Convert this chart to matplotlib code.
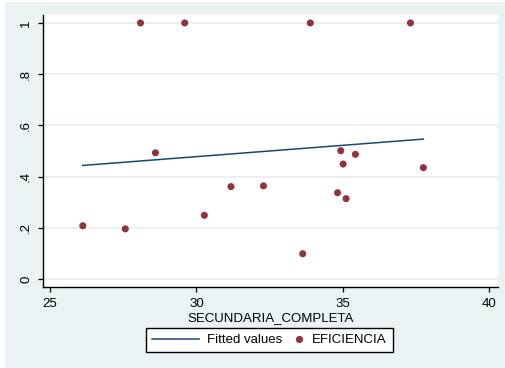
import numpy as np
import matplotlib
matplotlib.use("Agg")
import matplotlib.pyplot as plt
from matplotlib.lines import Line2D
from matplotlib.legend_handler import HandlerLine2D
from matplotlib.patches import Rectangle

plt.rcParams['font.family'] = ['Liberation Sans', 'DejaVu Sans']

# Share of population with complete secondary schooling vs. efficiency score
secundaria = [28.09, 29.60, 33.89, 37.31, 28.60, 34.93, 35.43, 35.01, 37.75,
              26.12, 27.57, 30.27, 31.18, 32.29, 34.82, 35.11, 33.63]
eficiencia = [1.000, 1.000, 1.000, 1.000, 0.493, 0.501, 0.487, 0.449, 0.435,
              0.208, 0.196, 0.249, 0.361, 0.364, 0.337, 0.314, 0.099]

x_ticks = [25, 30, 35, 40]
y_ticks = [0, 0.2, 0.4, 0.6, 0.8, 1.0]
y_tick_labels = ["0", ".2", ".4", ".6", ".8", "1"]

BG = "#EAF2F3"
GRID = "#E6EEF0"
NAVY = "#1A476F"
MAROON = "#90353B"

W, H = 505, 368
fig = plt.figure(figsize=(W / 100, H / 100), dpi=100, facecolor="white")
fig.patches.append(Rectangle((5 / W, 0), 1 - 5 / W, 1 - 2 / H,
                             transform=fig.transFigure, facecolor=BG,
                             edgecolor="none", zorder=-10))

ax = fig.add_axes([43 / W, (H - 287) / H, (498 - 43) / W, (287 - 15) / H])
ax.set_facecolor("white")

# OLS fit of efficiency on secondary schooling
xs = np.array(secundaria)
ys = np.array(eficiencia)
slope, intercept = np.polyfit(xs, ys, 1)
xfit = np.array([xs.min(), xs.max()])
ax.plot(xfit, intercept + slope * xfit, color=NAVY, lw=1.1, zorder=3)

ax.scatter(xs, ys, s=26, color=MAROON, edgecolors="none", zorder=4)

ax.set_xlim(24.76, 40.3)
ax.set_ylim(-0.031, 1.031)
ax.set_xticks(x_ticks)
ax.set_yticks(y_ticks)
ax.set_yticklabels(y_tick_labels, rotation=90, va="center")

for y in y_ticks:
    ax.axhline(y, color=GRID, lw=1.2, zorder=1)

for s in ("top", "right"):
    ax.spines[s].set_visible(False)
for s in ("left", "bottom"):
    ax.spines[s].set_linewidth(1.0)
    ax.spines[s].set_color("black")

ax.tick_params(axis="both", direction="out", length=3.8, width=0.9,
               labelsize=9.5, pad=4)
ax.set_xlabel("SECUNDARIA_COMPLETA", fontsize=9.5, labelpad=1.5)


class RightMarkerHandler(HandlerLine2D):
    """Place a single legend marker at the right end of its handle box."""
    def get_xdata(self, legend, xdescent, ydescent, width, height, fontsize):
        x = -xdescent + width - 3.0
        return [x, x], [x]


h_fit = Line2D([], [], color=NAVY, lw=1.1)
h_pts = Line2D([], [], ls="none", marker="o", markersize=5.2,
               markerfacecolor=MAROON, markeredgecolor="none")

leg = fig.legend([h_fit, h_pts], ["Fitted values", "EFICIENCIA"],
                 loc="center", bbox_to_anchor=(269.5 / W, 1 - 340 / H),
                 ncol=2, fontsize=9.5, frameon=True, fancybox=False,
                 edgecolor="black", facecolor="white", framealpha=1,
                 handlelength=3.5, handletextpad=0.65, columnspacing=-1.9,
                 borderpad=0.45, borderaxespad=0,
                 handler_map={h_pts: RightMarkerHandler()})
leg.get_frame().set_linewidth(1.0)

fig.savefig("out.png", dpi=100, facecolor=fig.get_facecolor())
